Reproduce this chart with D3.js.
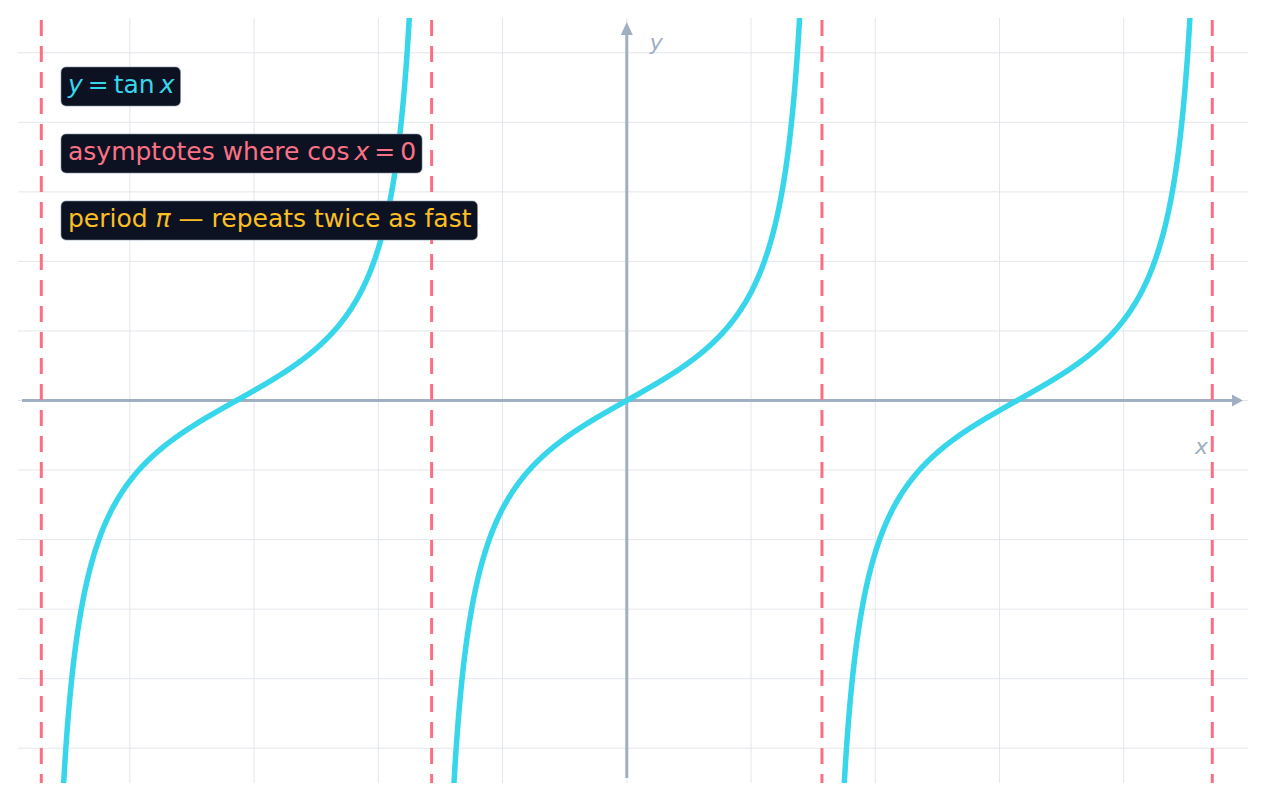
<!DOCTYPE html>
<html>
<head>
<meta charset="utf-8">
<script src="https://cdn.jsdelivr.net/npm/d3@7"></script>
<style>
  body { margin: 0; background: #fff; }
  svg { display: block; font-family: "DejaVu Sans", sans-serif; }
</style>
</head>
<body>
<svg id="chart" width="1266" height="801"></svg>
<script>
// Chart data
const PI = Math.PI;
const xDomain = [-4.9, 5.0];
const yDomain = [-5.5, 5.5];
const xGridTicks = [-4, -3, -2, -1, 0, 1, 2, 3, 4];
const yGridTicks = [-5, -4, -3, -2, -1, 0, 1, 2, 3, 4, 5];
const asymptotes = [-3 * PI / 2, -PI / 2, PI / 2, 3 * PI / 2];
// each branch of tan x lies between two neighbouring asymptotes
const branches = [[-3 * PI / 2, -PI / 2], [-PI / 2, PI / 2], [PI / 2, 3 * PI / 2]];
const TS = "\u2009"; // thin space used around math operators
const labelLines = [
    { color: "#38d6ea", parts: [["y", true], [TS + "=" + TS, false], ["tan", false], [TS, false], ["x", true]] },
    { color: "#fb7185", parts: [["asymptotes where ", false], ["cos", false], [TS, false], ["x", true], [TS + "=" + TS + "0", false]] },
    { color: "#fbbf24", parts: [["period ", false], ["\u03c0", true], [" \u2014 repeats twice as fast", false]] }
];

const margin = { top: 18, right: 18, bottom: 18, left: 18 },
    width = 1266 - margin.left - margin.right,
    height = 801 - margin.top - margin.bottom;

const svg = d3.select("#chart");
const g = svg.append("g").attr("transform", `translate(${margin.left},${margin.top})`);

const x = d3.scaleLinear().domain(xDomain).range([0, width]);
const y = d3.scaleLinear().domain(yDomain).range([height, 0]);

const axisColor = "#a0afc2";

g.append("clipPath").attr("id", "plot-clip")
    .append("rect").attr("width", width).attr("height", height);

// Grid
g.append("g").selectAll("line").data(xGridTicks).join("line")
    .attr("x1", d => x(d)).attr("x2", d => x(d))
    .attr("y1", 0).attr("y2", height)
    .attr("stroke", "#e3e6eb").attr("stroke-width", 1);
g.append("g").selectAll("line").data(yGridTicks).join("line")
    .attr("x1", 0).attr("x2", width)
    .attr("y1", d => y(d)).attr("y2", d => y(d))
    .attr("stroke", "#e3e6eb").attr("stroke-width", 1);

// Axes with arrows
const x0 = x(0), y0 = y(0);
g.append("line")
    .attr("x1", 4).attr("x2", width - 12)
    .attr("y1", y0).attr("y2", y0)
    .attr("stroke", axisColor).attr("stroke-width", 3);
g.append("path")
    .attr("d", `M${width - 5},${y0} L${width - 16},${y0 - 6} L${width - 16},${y0 + 6} Z`)
    .attr("fill", axisColor);
g.append("line")
    .attr("x1", x0).attr("x2", x0)
    .attr("y1", height - 5).attr("y2", 14)
    .attr("stroke", axisColor).attr("stroke-width", 3);
g.append("path")
    .attr("d", `M${x0},4 L${x0 - 6},17 L${x0 + 6},17 Z`)
    .attr("fill", axisColor);

g.append("text")
    .attr("x", x0 + 23).attr("y", 32)
    .attr("font-size", 22).attr("font-style", "italic")
    .attr("fill", axisColor).text("y");
g.append("text")
    .attr("x", width - 53).attr("y", y0 + 53)
    .attr("font-size", 22).attr("font-style", "italic")
    .attr("fill", axisColor).text("x");

// tan x curve, one path per branch
const line = d3.line().x(d => x(d[0])).y(d => y(d[1]));
const curves = g.append("g").attr("clip-path", "url(#plot-clip)");
branches.forEach(([a, b]) => {
    const pts = [];
    const n = 600;
    for (let i = 1; i < n; i++) {
        const t = a + (b - a) * i / n;
        const v = Math.tan(t);
        if (Math.abs(v) < 9) pts.push([t, v]);
    }
    curves.append("path")
        .datum(pts)
        .attr("d", line)
        .attr("fill", "none")
        .attr("stroke", "#38d6ea")
        .attr("stroke-width", 5.5);
});

// Asymptotes
g.append("g").selectAll("line").data(asymptotes).join("line")
    .attr("x1", d => x(d)).attr("x2", d => x(d))
    .attr("y1", 2).attr("y2", height)
    .attr("stroke", "#fb6f84").attr("stroke-width", 3)
    .attr("stroke-dasharray", "16,10");

// Label boxes
labelLines.forEach((lbl, i) => {
    const top = 49 + i * 67;
    const grp = g.append("g");
    const rect = grp.append("rect");
    const txt = grp.append("text")
        .attr("x", 50).attr("y", top + 26)
        .attr("font-size", 25)
        .attr("fill", lbl.color);
    lbl.parts.forEach(p => {
        txt.append("tspan")
            .attr("font-style", p[1] ? "italic" : "normal")
            .text(p[0]);
    });
    const w = txt.node().getComputedTextLength();
    rect.attr("x", 43).attr("y", top)
        .attr("width", w + 13).attr("height", 39)
        .attr("rx", 5)
        .attr("fill", "#0c1222")
        .attr("stroke", "#8391a6").attr("stroke-opacity", 0.6).attr("stroke-width", 1);
});
</script>
</body>
</html>
